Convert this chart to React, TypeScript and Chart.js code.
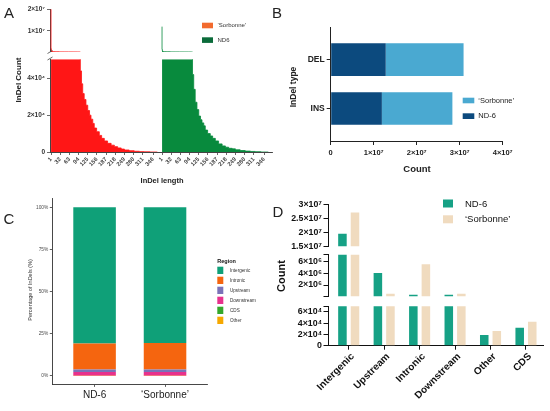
import React, { useEffect, useRef } from 'react';
import { Chart, registerables } from 'chart.js';

Chart.register(...registerables);

const W = 550;
const H = 411;
const FONT = '"Liberation Sans", Arial, Helvetica, sans-serif';
Chart.defaults.font.family = FONT;

// ---------------- Panel A : InDel length histogram ----------------
const seriesA = ['\u2018Sorbonne\u2019', 'ND6'];
const histLengths = [1, 2, 3, 4, 5, 6, 8, 10, 15, 20, 30, 45, 60, 75, 90, 100, 104, 108, 113, 119, 125, 131, 136, 142, 147, 155, 164, 172, 181, 192, 204, 215, 226, 238, 249, 265, 282, 300, 316, 335, 360];
const sorbonneHist = [2.05e7, 1.6e6, 8e5, 5e5, 4e5, 3e5, 2.5e5, 2e5, 1.6e5, 1.4e5, 1.2e5, 1.0e5, 9e4, 8e4, 6.5e4, 5.3e4, 4.4e4, 3.7e4, 3.17e4, 2.85e4, 2.54e4, 2.25e4, 2.0e4, 1.78e4, 1.55e4, 1.3e4, 1.1e4, 9000, 7400, 6000, 4700, 3700, 2900, 2200, 1600, 1100, 700, 400, 200, 100, 0];
const nd6Hist = [1.19e7, 1.2e6, 6e5, 4e5, 3e5, 2.5e5, 2e5, 1.7e5, 1.4e5, 1.2e5, 1.1e5, 9e4, 8e4, 7e4, 6e4, 5.4e4, 5.1e4, 4.2e4, 3.4e4, 2.7e4, 2.3e4, 1.95e4, 1.75e4, 1.58e4, 1.42e4, 1.19e4, 1.0e4, 8700, 7400, 6000, 4400, 3300, 2600, 2000, 1700, 1200, 800, 500, 300, 150, 0];
const histTickLengths = [1, 32, 63, 94, 125, 156, 187, 218, 249, 280, 311, 346];
const histUpperTicks = [1e7, 2e7];
const histLowerTicks = [0, 2e4, 4e4];

// ---------------- Panel B : InDel type ----------------
const indelTypes = ['DEL', 'INS'];
const seriesB = ['\u2018Sorbonne\u2019', 'ND-6'];
const nd6TypeCounts = [1.28e7, 1.19e7];
const sorbonneTypeCounts = [1.81e7, 1.64e7];
const typeCountTicks = [0, 1e7, 2e7, 3e7, 4e7];

// ---------------- Panel C : region percentage ----------------
const samplesC = ['ND-6', '\u2018Sorbonne\u2019'];
const regionNames = ['Intergenic', 'Intronic', 'Upstream', 'Downstream', 'CDS', 'Other'];
const nd6RegionPct = [80.8, 15.4, 1.4, 2.2, 0.1, 0.1];
const sorbonneRegionPct = [80.4, 15.8, 1.4, 2.2, 0.1, 0.1];
const pctTicks = [0, 25, 50, 75, 100];

// ---------------- Panel D : region counts ----------------
const seriesD = ['ND-6', '\u2018Sorbonne\u2019'];
const regionsD = ['Intergenic', 'Upstream', 'Intronic', 'Downstream', 'Other', 'CDS'];
const nd6RegionCounts = [1.95e7, 4.0e6, 3.8e5, 3.8e5, 1.9e4, 3.2e4];
const sorbonneRegionCounts = [2.72e7, 5.5e5, 5.5e6, 5.5e5, 2.6e4, 4.26e4];
const dTopTicks = [1.5e7, 2e7, 2.5e7, 3e7];
const dMidTicks = [2e6, 4e6, 6e6];
const dLowTicks = [0, 2e4, 4e4, 6e4];

// ---------------- styles ----------------
const RED = '#ff1616';
const GREEN = '#088a3d';
const LEG_ORANGE = '#f26a2e';
const LEG_GREEN = '#0b6b3a';
const NAVY = '#0c4a7e';
const LIGHTBLUE = '#4aa9d1';
const REGION_COLORS = ['#0fa078', '#f5650f', '#7b72b8', '#e8318d', '#35a82b', '#f6a800'];
const TEAL = '#16a185';
const BEIGE = '#f0dbbf';

const SUP: Record<string, string> = { '0': '\u2070', '1': '\u00b9', '2': '\u00b2', '3': '\u00b3', '4': '\u2074', '5': '\u2075', '6': '\u2076', '7': '\u2077', '8': '\u2078', '9': '\u2079' };
function sci(v: number): string {
  if (v === 0) return '0';
  const e = Math.floor(Math.log10(v) + 1e-9);
  const m = +(v / Math.pow(10, e)).toFixed(2);
  return m + '\u00d710' + String(e).split('').map((c) => SUP[c]).join('');
}

type Rect = { l: number; t: number; r: number; b: number };
// chart area placement: shown axes get a fixed box size, hidden ones become padding
function place(rect: Rect, xShown: boolean, yShown: boolean) {
  return {
    layout: { padding: { left: yShown ? 0 : rect.l, top: rect.t, right: W - rect.r, bottom: xShown ? 0 : H - rect.b } },
    xBox: xShown ? H - rect.b : 0,
    yBox: yShown ? rect.l : 0,
  };
}
function fitTo(size: number) {
  return (axis: any) => {
    if (axis.isHorizontal()) axis.height = size;
    else axis.width = size;
    axis.paddingLeft = 0;
    axis.paddingRight = 0;
    axis.paddingTop = 0;
    axis.paddingBottom = 0;
  };
}
function setTicks(values: number[]) {
  return (axis: any) => {
    axis.ticks = values.map((v) => ({ value: v }));
  };
}

function axis(o: any) {
  const shown = o.display !== false;
  return {
    type: 'linear',
    min: o.min,
    max: o.max,
    reverse: !!o.reverse,
    stacked: !!o.stacked,
    display: shown,
    offset: false,
    beginAtZero: false,
    afterBuildTicks: setTicks(o.ticks),
    afterFit: fitTo(shown ? o.box || 0 : 0),
    grid: { display: true, drawOnChartArea: false, drawTicks: true, tickLength: o.tickLength ?? 4, color: o.lineColor || '#222', lineWidth: o.tickWidth ?? 1, offset: false },
    border: { display: true, color: o.lineColor || '#222', width: o.lineWidth ?? 1 },
    ticks: {
      autoSkip: false,
      maxRotation: o.rotate || 0,
      minRotation: o.rotate || 0,
      padding: o.padding ?? 2,
      labelOffset: o.labelOffset || 0,
      color: o.color || '#222',
      font: { size: o.size || 8, weight: o.bold ? 'bold' : 'normal', family: FONT },
      callback: (v: number) => o.label(v),
    },
  };
}

function drawText(ctx: CanvasRenderingContext2D, s: string, x: number, y: number, size: number, o: any = {}) {
  ctx.save();
  ctx.font = (o.bold ? 'bold ' : '') + size + 'px ' + FONT;
  ctx.fillStyle = o.color || '#222';
  ctx.textAlign = o.align || 'center';
  ctx.textBaseline = 'middle';
  ctx.translate(x, y);
  if (o.rot) ctx.rotate(o.rot);
  ctx.fillText(s, 0, 0);
  ctx.restore();
}
function overlay(draw: (ctx: CanvasRenderingContext2D) => void) {
  return {
    id: 'overlay',
    afterDraw(chart: any) {
      const ctx = chart.ctx;
      ctx.save();
      draw(ctx);
      ctx.restore();
    },
  };
}

const base = {
  responsive: false,
  animation: false,
  events: [],
  plugins: { legend: { display: false }, tooltip: { enabled: false } },
};

// ---------------- Panel A configs ----------------
const A_X = { min: -2.5, max: 372.5 };
const A_AX = '#444';
const A_UPPER = { min: 5e4, max: 2e7 };
const A_LOWER = { min: 0, max: 5.03e4 };
function histChart(values: number[], color: string, label: string, rect: Rect, upper: boolean, yShown: boolean, plugins: any[] = []) {
  const p = place(rect, !upper, yShown);
  const yr = upper ? A_UPPER : A_LOWER;
  return {
    type: 'line',
    data: {
      datasets: [{
        label,
        // the upper (broken) segment only shows the counts that exceed the break
        data: histLengths.map((l, i) => ({ x: l, y: !upper || values[i] > yr.min ? values[i] : null })),
        stepped: 'after',
        fill: 'origin',
        backgroundColor: color,
        borderColor: color,
        borderWidth: 0.8,
        pointRadius: 0,
        spanGaps: false,
        clip: 0,
      }],
    },
    options: {
      ...base,
      layout: p.layout,
      scales: {
        x: axis({
          ...A_X, display: !upper, box: p.xBox, ticks: histTickLengths, label: (v: number) => String(v),
          tickLength: 3, lineColor: A_AX, tickWidth: 0.8, rotate: 45, padding: 1, size: 5.8, bold: true, color: '#444',
        }),
        y: axis({
          ...yr, display: yShown, box: p.yBox,
          ticks: upper ? histUpperTicks : histLowerTicks, label: sci,
          tickLength: 3, lineColor: A_AX, tickWidth: 0.8, padding: 2, size: 6.5, bold: true, color: '#333',
        }),
      },
    },
    plugins,
  };
}
const aOverlay = overlay((ctx) => {
  drawText(ctx, 'A', 9, 14, 15);
  drawText(ctx, 'InDel Count', 18.5, 80, 8, { bold: true, rot: -Math.PI / 2 });
  drawText(ctx, 'InDel length', 162, 180.5, 7.5, { bold: true });
  ctx.fillStyle = LEG_ORANGE;
  ctx.fillRect(202, 22.7, 11, 5.6);
  ctx.fillStyle = LEG_GREEN;
  ctx.fillRect(202, 37.3, 11, 5.6);
  drawText(ctx, seriesA[0], 217.5, 25.5, 6, { align: 'left', color: '#333' });
  drawText(ctx, seriesA[1], 217.5, 40.2, 6, { align: 'left', color: '#333' });
  ctx.strokeStyle = A_AX;
  ctx.lineWidth = 0.8;
  ctx.beginPath();
  ctx.moveTo(47.5, 53.5); ctx.lineTo(52.5, 50.5);
  ctx.moveTo(47.5, 60); ctx.lineTo(52.5, 57);
  ctx.stroke();
});

// ---------------- Panel B config ----------------
function panelB() {
  const p = place({ l: 330.7, t: 27, r: 502.7, b: 141 }, true, true);
  return {
    type: 'bar',
    data: {
      datasets: [
        { label: seriesB[1], data: indelTypes.map((_, i) => ({ x: nd6TypeCounts[i], y: i })), backgroundColor: NAVY, clip: 0 },
        { label: seriesB[0], data: indelTypes.map((_, i) => ({ x: sorbonneTypeCounts[i], y: i })), backgroundColor: LIGHTBLUE, clip: 0 },
      ],
    },
    options: {
      ...base,
      indexAxis: 'y',
      layout: p.layout,
      datasets: { bar: { categoryPercentage: 1, barPercentage: 0.67 } },
      scales: {
        x: axis({ min: 0, max: 4e7, stacked: true, box: p.xBox, ticks: typeCountTicks, label: sci, tickLength: 4, padding: 3, size: 7.5, bold: true, color: '#222' }),
        y: axis({ min: -0.67, max: 1.666, reverse: true, stacked: true, box: p.yBox, ticks: [0, 1], label: (v: number) => indelTypes[v], tickLength: 4, padding: 2, size: 8.5, bold: true, color: '#222' }),
      },
    },
    plugins: [overlay((ctx) => {
      drawText(ctx, 'B', 277, 14, 15);
      drawText(ctx, 'InDel type', 293.3, 87, 8.5, { bold: true, rot: -Math.PI / 2 });
      drawText(ctx, 'Count', 417, 169.3, 9.5, { bold: true });
      ctx.fillStyle = LIGHTBLUE;
      ctx.fillRect(462.7, 97.7, 11.6, 5.6);
      ctx.fillStyle = NAVY;
      ctx.fillRect(462.7, 113.3, 11.6, 5.7);
      drawText(ctx, seriesB[0], 478.3, 100.6, 7.5, { align: 'left' });
      drawText(ctx, seriesB[1], 478.3, 116.2, 7.5, { align: 'left' });
    })],
  };
}

// ---------------- Panel C config ----------------
function panelC() {
  const p = place({ l: 52.3, t: 198.9, r: 207.3, b: 384.4 }, true, true);
  const pct = [nd6RegionPct, sorbonneRegionPct];
  const datasets = regionNames.map((name, k) => ({
    label: name,
    data: samplesC.map((_, i) => ({ x: i + 1, y: pct[i][k] })),
    backgroundColor: REGION_COLORS[k],
    clip: 0,
  })).reverse();
  return {
    type: 'bar',
    data: { datasets },
    options: {
      ...base,
      layout: p.layout,
      datasets: { bar: { categoryPercentage: 1, barPercentage: 0.604 } },
      scales: {
        x: axis({ min: 0.4, max: 2.6, stacked: true, box: p.xBox, ticks: [1, 2], label: (v: number) => samplesC[v - 1], tickLength: 2.5, lineColor: '#333', tickWidth: 0.8, lineWidth: 0.9, padding: 2, size: 10, color: '#1a1a1a' }),
        y: axis({ min: -5, max: 105, stacked: true, box: p.yBox, ticks: pctTicks, label: (v: number) => v + '%', tickLength: 2.5, lineColor: '#333', tickWidth: 0.8, lineWidth: 0.9, padding: 1.5, size: 4.8, color: '#4d4d4d' }),
      },
    },
    plugins: [overlay((ctx) => {
      drawText(ctx, 'C', 9, 220, 15);
      drawText(ctx, 'Percentage of InDels (%)', 30, 290, 5.5, { rot: -Math.PI / 2, color: '#333' });
      drawText(ctx, 'Region', 217.3, 261.7, 5.5, { bold: true, align: 'left', color: '#111' });
      regionNames.forEach((name, k) => {
        ctx.fillStyle = REGION_COLORS[k];
        ctx.fillRect(217.3, 266.7 + 10 * k, 6, 7.3);
        drawText(ctx, name, 230, 270.4 + 10 * k, 4.6, { align: 'left', color: '#333' });
      });
    })],
  };
}

// ---------------- Panel D configs ----------------
const D_X = { min: -0.57, max: 5.48 };
function dChart(rect: Rect, min: number, max: number, tickVals: number[], showX: boolean, plugins: any[] = []) {
  const p = place(rect, showX, true);
  const allTicks = Array.from(new Set([min, ...tickVals, max])).sort((a, b) => a - b);
  // a segment above the break only shows the values that reach into it
  const visible = (v: number) => (min === 0 || v > min ? v : null);
  return {
    type: 'bar',
    data: {
      datasets: [
        { label: seriesD[0], data: regionsD.map((_, i) => ({ x: i, y: visible(nd6RegionCounts[i]) })), backgroundColor: TEAL, clip: 0 },
        { label: seriesD[1], data: regionsD.map((_, i) => ({ x: i, y: visible(sorbonneRegionCounts[i]) })), backgroundColor: BEIGE, clip: 0 },
      ],
    },
    options: {
      ...base,
      layout: p.layout,
      datasets: { bar: { categoryPercentage: 0.708, barPercentage: 0.68, skipNull: false } },
      scales: {
        x: axis({
          ...D_X, display: showX, box: p.xBox, ticks: regionsD.map((_, i) => i), label: (v: number) => regionsD[v],
          tickLength: 4, lineColor: '#111', rotate: 45, padding: 1, size: 10, bold: true, color: '#111', labelOffset: 4,
        }),
        y: axis({ min, max, box: p.yBox, ticks: allTicks, label: (v: number) => (tickVals.includes(v) ? sci(v) : ''), tickLength: 5, lineColor: '#111', padding: 1.5, size: 8.8, bold: true, color: '#111' }),
      },
    },
    plugins,
  };
}
const dOverlay = overlay((ctx) => {
  drawText(ctx, 'D', 278, 213, 15);
  drawText(ctx, 'Count', 282, 276, 11, { bold: true, rot: -Math.PI / 2, color: '#111' });
  ctx.fillStyle = TEAL;
  ctx.fillRect(443, 199.5, 10, 8);
  ctx.fillStyle = BEIGE;
  ctx.fillRect(443, 215.3, 10, 8);
  drawText(ctx, seriesD[0], 465, 204, 9.5, { align: 'left', color: '#111' });
  drawText(ctx, seriesD[1], 465, 219.5, 9.5, { align: 'left', color: '#111' });
});

const factories: Array<() => any> = [
  () => histChart(sorbonneHist, RED, seriesA[0], { l: 50, t: 9.3, r: 161, b: 52 }, true, true),
  () => histChart(sorbonneHist, RED, seriesA[0], { l: 50, t: 59.3, r: 161, b: 152 }, false, true, [aOverlay]),
  () => histChart(nd6Hist, GREEN, seriesA[1], { l: 161, t: 9.3, r: 272, b: 52 }, true, false),
  () => histChart(nd6Hist, GREEN, seriesA[1], { l: 161, t: 59.3, r: 272, b: 152 }, false, false),
  () => panelB(),
  () => panelC(),
  () => dChart({ l: 328.5, t: 204.7, r: 543, b: 246.3 }, 1.5e7, 3e7, dTopTicks, false, [dOverlay]),
  () => dChart({ l: 328.5, t: 254.7, r: 543, b: 296.3 }, 1e5, 7.1e6, dMidTicks, false),
  () => dChart({ l: 328.5, t: 306.3, r: 543, b: 345.7 }, 0, 7e4, dLowTicks, true),
];

function ChartLayer({ make }: { make: () => any }) {
  const ref = useRef<HTMLCanvasElement>(null);
  useEffect(() => {
    if (!ref.current) return;
    const chart = new Chart(ref.current, make());
    return () => chart.destroy();
  }, [make]);
  return <canvas ref={ref} width={W} height={H} style={{ position: 'absolute', left: 0, top: 0, width: W, height: H }} />;
}

export default function App() {
  return (
    <div style={{ position: 'absolute', left: 0, top: 0, width: W, height: H, background: '#fff', overflow: 'hidden' }}>
      {factories.map((f, i) => (
        <ChartLayer key={i} make={f} />
      ))}
    </div>
  );
}
